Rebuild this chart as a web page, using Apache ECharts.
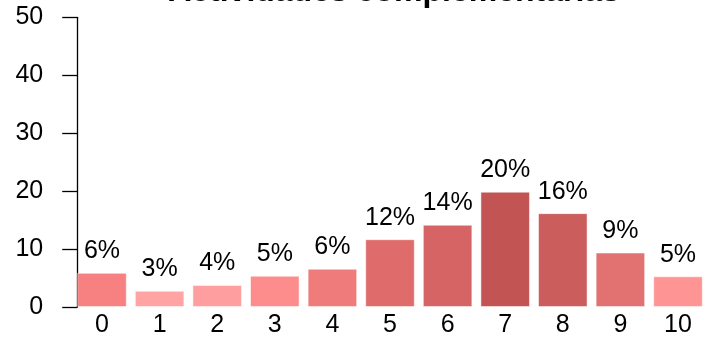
<!DOCTYPE html>
<html>
<head>
<meta charset="utf-8">
<script src="https://cdn.jsdelivr.net/npm/echarts@6/dist/echarts.min.js"></script>
<style>
  html, body { margin: 0; padding: 0; background: #fff; }
  #chart { width: 715px; height: 339px; }
</style>
</head>
<body>
<div id="chart"></div>
<script>
var categories = ['0', '1', '2', '3', '4', '5', '6', '7', '8', '9', '10']
var values = [5.9, 2.8, 3.8, 5.4, 6.6, 11.7, 14.2, 19.9, 16.2, 9.4, 5.3]
var percentLabels = ['6%', '3%', '4%', '5%', '6%', '12%', '14%', '20%', '16%', '9%', '5%']
var yTicks = [0, 10, 20, 30, 40, 50]

// colour per bar, darker for taller bars
var colorList = ['#f78080', '#ffa3a3', '#ff9e9e', '#fd8c8c', '#ef7b7b', '#df6b6b',
  '#d66464', '#c35454', '#cb5d5d', '#e27171', '#ff9494']

var font = '"Liberation Sans", Arial, sans-serif'

var chart = echarts.init(document.getElementById('chart'))

var barData = values.map(function(v, i) {
  return {
    value: v,
    itemStyle: { color: colorList[i] }
  }
})

chart.setOption({
  animation: false,
  title: {
    text: 'Actividades complementarias',
    left: 389,
    textAlign: 'center',
    top: -29,
    textStyle: { fontFamily: font, fontSize: 32, fontWeight: 'bold', color: '#000' }
  },
  grid: {
    left: 73.2,
    right: 8.2,
    top: 17.3,
    bottom: 32
  },
  xAxis: {
    type: 'category',
    data: categories,
    axisLine: { show: false },
    axisTick: { show: false },
    axisLabel: { color: '#000', fontFamily: font, fontSize: 25, margin: 6 }
  },
  yAxis: {
    type: 'value',
    min: yTicks[0],
    max: yTicks[yTicks.length - 1],
    interval: 10,
    offset: -4,
    splitLine: { show: false },
    axisLine: { show: true, lineStyle: { color: '#000', width: 1.3 } },
    axisTick: { show: true, length: 15, lineStyle: { color: '#000', width: 1.3 } },
    axisLabel: { color: '#000', fontFamily: font, fontSize: 25, margin: 34 }
  },
  series: [{
    type: 'bar',
    data: barData,
    barCategoryGap: '14%',
    itemStyle: { borderColor: 'rgba(255,255,255,0.5)', borderWidth: 1 },
    label: {
      show: true,
      position: 'top',
      distance: 9,
      color: '#000',
      fontFamily: font,
      fontSize: 25,
      formatter: function(p) { return percentLabels[p.dataIndex] }
    }
  }]
})
</script>
</body>
</html>
